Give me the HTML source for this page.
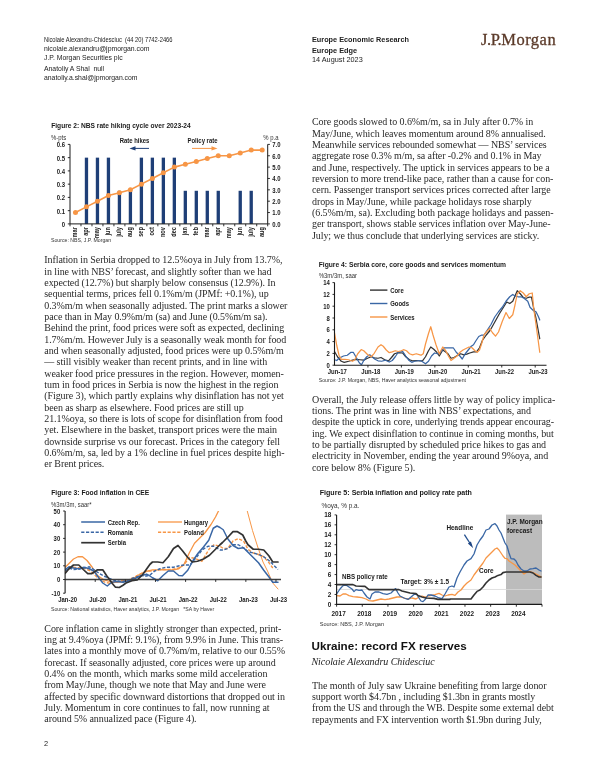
<!DOCTYPE html>
<html>
<head>
<meta charset="utf-8">
<title>Europe Edge</title>
<style>
html,body{margin:0;padding:0;background:#fff;}
body{width:600px;height:776px;position:relative;overflow:hidden;font-family:"Liberation Sans",sans-serif;color:#1a1a1a;}
.abs{position:absolute;white-space:pre;}
.body{position:absolute;font-family:"Liberation Serif",serif;font-size:10px;line-height:11.34px;white-space:pre;color:#2a2a2a;letter-spacing:-0.088px;}
.nar{position:absolute;white-space:pre;transform-origin:0 0;font-family:"Liberation Sans",sans-serif;}
.hd{position:absolute;white-space:pre;font-size:7.3px;line-height:9px;color:#222;}
svg{position:absolute;left:0;top:0;}
svg text{font-family:"Liberation Sans",sans-serif;}
</style>
</head>
<body>
<div id="page" style="position:absolute;left:0;top:0;width:600px;height:776px;filter:blur(0.55px);">

<!-- header left -->
<div class="nar" id="hl1" style="left:44px;top:34.6px;font-size:7.4px;line-height:9px;transform:scaleX(0.78);color:#222;">Nicolaie Alexandru-Chidesciuc  (44 20) 7742-2466</div>
<div class="hd" id="hl2" style="left:44px;top:44px;font-size:6.85px;">nicolaie.alexandru@jpmorgan.com</div>
<div class="hd" id="hl3" style="left:44px;top:53px;font-size:6.85px;">J.P. Morgan Securities plc</div>
<div class="hd" id="hl4" style="left:44px;top:63.6px;font-size:6.85px;">Anatoliy A Shal  null</div>
<div class="hd" id="hl5" style="left:44px;top:72.5px;font-size:6.85px;">anatoliy.a.shal@jpmorgan.com</div>

<!-- header right -->
<div class="hd" id="hr1" style="left:312px;top:34.8px;font-weight:bold;">Europe Economic Research</div>
<div class="hd" id="hr2" style="left:312px;top:45.6px;font-weight:bold;">Europe Edge</div>
<div class="hd" id="hr3" style="left:312px;top:54.6px;">14 August 2023</div>
<div class="abs" id="logo" style="left:481px;top:29px;font-family:'Liberation Serif',serif;font-size:16.5px;line-height:22px;color:#5b3a29;-webkit-text-stroke:0.3px #5b3a29;"><span style="letter-spacing:-0.45px;">J.P.</span><span style="letter-spacing:0.5px;">Morgan</span></div>

<!-- left column paragraph 1 -->
<div class="body" id="p1" style="left:44.3px;top:254.25px;">Inflation in Serbia dropped to 12.5%oya in July from 13.7%,
in line with NBS’ forecast, and slightly softer than we had
expected (12.7%) but sharply below consensus (12.9%). In
sequential terms, prices fell 0.1%m/m (JPMf: +0.1%), up
0.3%m/m when seasonally adjusted. The print marks a slower
pace than in May 0.9%m/m (sa) and June (0.5%m/m sa).
Behind the print, food prices were soft as expected, declining
1.7%m/m. However July is a seasonally weak month for food
and when seasonally adjusted, food prices were up 0.5%m/m
— still visibly weaker than recent prints, and in line with
weaker food price pressures in the region. However, momen-
tum in food prices in Serbia is now the highest in the region
(Figure 3), which partly explains why disinflation has not yet
been as sharp as elsewhere. Food prices are still up
21.1%oya, so there is lots of scope for disinflation from food
yet. Elsewhere in the basket, transport prices were the main
downside surprise vs our forecast. Prices in the category fell
0.6%m/m, sa, led by a 1% decline in fuel prices despite high-
er Brent prices.</div>

<!-- left column paragraph 2 -->
<div class="body" id="p2" style="left:44.3px;top:622.65px;">Core inflation came in slightly stronger than expected, print-
ing at 9.4%oya (JPMf: 9.1%), from 9.9% in June. This trans-
lates into a monthly move of 0.7%m/m, relative to our 0.55%
forecast. If seasonally adjusted, core prices were up around
0.4% on the month, which marks some mild acceleration
from May/June, though we note that May and June were
affected by specific downward distortions that dropped out in
July. Momentum in core continues to fall, now running at
around 5% annualized pace (Figure 4).</div>

<!-- right column paragraph 1 -->
<div class="body" id="p3" style="left:312px;top:116.25px;">Core goods slowed to 0.6%m/m, sa in July after 0.7% in
May/June, which leaves momentum around 8% annualised.
Meanwhile services rebounded somewhat — NBS’ services
aggregate rose 0.3% m/m, sa after -0.2% and 0.1% in May
and June, respectively. The uptick in services appears to be a
reversion to more trend-like pace, rather than a cause for con-
cern. Passenger transport services prices corrected after large
drops in May/June, while package holidays rose sharply
(6.5%m/m, sa). Excluding both package holidays and passen-
ger transport, shows stable services inflation over May-June-
July; we thus conclude that underlying services are sticky.</div>

<!-- right column paragraph 2 -->
<div class="body" id="p4" style="left:312px;top:393.75px;">Overall, the July release offers little by way of policy implica-
tions. The print was in line with NBS’ expectations, and
despite the uptick in core, underlying trends appear encourag-
ing. We expect disinflation to continue in coming months, but
to be partially disrupted by scheduled price hikes to gas and
electricity in November, ending the year around 9%oya, and
core below 8% (Figure 5).</div>

<!-- Ukraine section -->
<div class="abs" id="uk" style="left:311.5px;top:639px;font-size:11.65px;line-height:14px;font-weight:bold;color:#111;">Ukraine: record FX reserves</div>
<div class="abs" id="auth" style="left:311.5px;top:656.2px;font-family:'Liberation Serif',serif;font-style:italic;font-size:10px;line-height:11.34px;color:#222;letter-spacing:-0.06px;">Nicolaie Alexandru Chidesciuc</div>
<div class="body" id="p5" style="left:312px;top:679.6px;">The month of July saw Ukraine benefiting from large donor
support worth $4.7bn , including $1.3bn in grants mostly
from the US and through the WB. Despite some external debt
repayments and FX intervention worth $1.9bn during July,</div>

<!-- page number -->
<div class="abs" id="pn" style="left:44px;top:739.4px;font-size:7.4px;line-height:9px;color:#222;">2</div>

<svg width="600" height="776" viewBox="0 0 600 776">
<g id="fig2">
<text transform="translate(51.20 128.40) scale(0.84 1)" font-size="7.9" font-weight="bold" text-anchor="start" fill="#1a1a1a" >Figure 2: NBS rate hiking cycle over 2023-24</text>
<text transform="translate(51.00 139.70) scale(0.85 1)" font-size="7.0" font-weight="normal" text-anchor="start" fill="#333" >%-pts</text>
<text transform="translate(278.50 139.70) scale(0.85 1)" font-size="7.0" font-weight="normal" text-anchor="end" fill="#333" >% p.a</text>
<rect x="84.82" y="157.65" width="3.3" height="66.25" fill="#1f3f77"/>
<rect x="95.81" y="157.65" width="3.3" height="66.25" fill="#1f3f77"/>
<rect x="106.79" y="157.65" width="3.3" height="66.25" fill="#1f3f77"/>
<rect x="117.77" y="190.78" width="3.3" height="33.12" fill="#1f3f77"/>
<rect x="128.76" y="190.78" width="3.3" height="33.12" fill="#1f3f77"/>
<rect x="139.74" y="157.65" width="3.3" height="66.25" fill="#1f3f77"/>
<rect x="150.72" y="157.65" width="3.3" height="66.25" fill="#1f3f77"/>
<rect x="161.71" y="157.65" width="3.3" height="66.25" fill="#1f3f77"/>
<rect x="172.69" y="157.65" width="3.3" height="66.25" fill="#1f3f77"/>
<rect x="183.67" y="190.78" width="3.3" height="33.12" fill="#1f3f77"/>
<rect x="194.66" y="190.78" width="3.3" height="33.12" fill="#1f3f77"/>
<rect x="205.64" y="190.78" width="3.3" height="33.12" fill="#1f3f77"/>
<rect x="216.62" y="190.78" width="3.3" height="33.12" fill="#1f3f77"/>
<rect x="238.59" y="190.78" width="3.3" height="33.12" fill="#1f3f77"/>
<rect x="249.57" y="190.78" width="3.3" height="33.12" fill="#1f3f77"/>
<path d="M70.0 144.4V223.9H267.7V144.4" fill="none" stroke="#1a1a1a" stroke-width="1"/>
<path d="M67.8 223.90H70.0" stroke="#1a1a1a" stroke-width="0.9"/>
<text transform="translate(65.00 226.80) scale(0.85 1)" font-size="7.0" font-weight="bold" text-anchor="end" fill="#1a1a1a" >0</text>
<path d="M67.8 210.65H70.0" stroke="#1a1a1a" stroke-width="0.9"/>
<text transform="translate(65.00 213.55) scale(0.85 1)" font-size="7.0" font-weight="bold" text-anchor="end" fill="#1a1a1a" >0.1</text>
<path d="M67.8 197.40H70.0" stroke="#1a1a1a" stroke-width="0.9"/>
<text transform="translate(65.00 200.30) scale(0.85 1)" font-size="7.0" font-weight="bold" text-anchor="end" fill="#1a1a1a" >0.2</text>
<path d="M67.8 184.15H70.0" stroke="#1a1a1a" stroke-width="0.9"/>
<text transform="translate(65.00 187.05) scale(0.85 1)" font-size="7.0" font-weight="bold" text-anchor="end" fill="#1a1a1a" >0.3</text>
<path d="M67.8 170.90H70.0" stroke="#1a1a1a" stroke-width="0.9"/>
<text transform="translate(65.00 173.80) scale(0.85 1)" font-size="7.0" font-weight="bold" text-anchor="end" fill="#1a1a1a" >0.4</text>
<path d="M67.8 157.65H70.0" stroke="#1a1a1a" stroke-width="0.9"/>
<text transform="translate(65.00 160.55) scale(0.85 1)" font-size="7.0" font-weight="bold" text-anchor="end" fill="#1a1a1a" >0.5</text>
<path d="M67.8 144.40H70.0" stroke="#1a1a1a" stroke-width="0.9"/>
<text transform="translate(65.00 147.30) scale(0.85 1)" font-size="7.0" font-weight="bold" text-anchor="end" fill="#1a1a1a" >0.6</text>
<path d="M267.7 223.90H269.9" stroke="#1a1a1a" stroke-width="0.9"/>
<text transform="translate(272.30 226.80) scale(0.85 1)" font-size="7.0" font-weight="bold" text-anchor="start" fill="#1a1a1a" >0.0</text>
<path d="M267.7 212.54H269.9" stroke="#1a1a1a" stroke-width="0.9"/>
<text transform="translate(272.30 215.44) scale(0.85 1)" font-size="7.0" font-weight="bold" text-anchor="start" fill="#1a1a1a" >1.0</text>
<path d="M267.7 201.19H269.9" stroke="#1a1a1a" stroke-width="0.9"/>
<text transform="translate(272.30 204.09) scale(0.85 1)" font-size="7.0" font-weight="bold" text-anchor="start" fill="#1a1a1a" >2.0</text>
<path d="M267.7 189.83H269.9" stroke="#1a1a1a" stroke-width="0.9"/>
<text transform="translate(272.30 192.73) scale(0.85 1)" font-size="7.0" font-weight="bold" text-anchor="start" fill="#1a1a1a" >3.0</text>
<path d="M267.7 178.47H269.9" stroke="#1a1a1a" stroke-width="0.9"/>
<text transform="translate(272.30 181.37) scale(0.85 1)" font-size="7.0" font-weight="bold" text-anchor="start" fill="#1a1a1a" >4.0</text>
<path d="M267.7 167.11H269.9" stroke="#1a1a1a" stroke-width="0.9"/>
<text transform="translate(272.30 170.01) scale(0.85 1)" font-size="7.0" font-weight="bold" text-anchor="start" fill="#1a1a1a" >5.0</text>
<path d="M267.7 155.76H269.9" stroke="#1a1a1a" stroke-width="0.9"/>
<text transform="translate(272.30 158.66) scale(0.85 1)" font-size="7.0" font-weight="bold" text-anchor="start" fill="#1a1a1a" >6.0</text>
<path d="M267.7 144.40H269.9" stroke="#1a1a1a" stroke-width="0.9"/>
<text transform="translate(272.30 147.30) scale(0.85 1)" font-size="7.0" font-weight="bold" text-anchor="start" fill="#1a1a1a" >7.0</text>
<path d="M70.00 223.9V226.3" stroke="#1a1a1a" stroke-width="0.9"/>
<path d="M80.98 223.9V226.3" stroke="#1a1a1a" stroke-width="0.9"/>
<path d="M91.97 223.9V226.3" stroke="#1a1a1a" stroke-width="0.9"/>
<path d="M102.95 223.9V226.3" stroke="#1a1a1a" stroke-width="0.9"/>
<path d="M113.93 223.9V226.3" stroke="#1a1a1a" stroke-width="0.9"/>
<path d="M124.92 223.9V226.3" stroke="#1a1a1a" stroke-width="0.9"/>
<path d="M135.90 223.9V226.3" stroke="#1a1a1a" stroke-width="0.9"/>
<path d="M146.88 223.9V226.3" stroke="#1a1a1a" stroke-width="0.9"/>
<path d="M157.87 223.9V226.3" stroke="#1a1a1a" stroke-width="0.9"/>
<path d="M168.85 223.9V226.3" stroke="#1a1a1a" stroke-width="0.9"/>
<path d="M179.83 223.9V226.3" stroke="#1a1a1a" stroke-width="0.9"/>
<path d="M190.82 223.9V226.3" stroke="#1a1a1a" stroke-width="0.9"/>
<path d="M201.80 223.9V226.3" stroke="#1a1a1a" stroke-width="0.9"/>
<path d="M212.78 223.9V226.3" stroke="#1a1a1a" stroke-width="0.9"/>
<path d="M223.77 223.9V226.3" stroke="#1a1a1a" stroke-width="0.9"/>
<path d="M234.75 223.9V226.3" stroke="#1a1a1a" stroke-width="0.9"/>
<path d="M245.73 223.9V226.3" stroke="#1a1a1a" stroke-width="0.9"/>
<path d="M256.72 223.9V226.3" stroke="#1a1a1a" stroke-width="0.9"/>
<path d="M267.70 223.9V226.3" stroke="#1a1a1a" stroke-width="0.9"/>
<text transform="translate(77.49 227.1) rotate(-90) scale(0.85 1)" font-size="6.6" font-weight="bold" text-anchor="end" fill="#1a1a1a">mar</text>
<text transform="translate(88.47 227.1) rotate(-90) scale(0.85 1)" font-size="6.6" font-weight="bold" text-anchor="end" fill="#1a1a1a">apr</text>
<text transform="translate(99.46 227.1) rotate(-90) scale(0.85 1)" font-size="6.6" font-weight="bold" text-anchor="end" fill="#1a1a1a">may</text>
<text transform="translate(110.44 227.1) rotate(-90) scale(0.85 1)" font-size="6.6" font-weight="bold" text-anchor="end" fill="#1a1a1a">jun</text>
<text transform="translate(121.42 227.1) rotate(-90) scale(0.85 1)" font-size="6.6" font-weight="bold" text-anchor="end" fill="#1a1a1a">july</text>
<text transform="translate(132.41 227.1) rotate(-90) scale(0.85 1)" font-size="6.6" font-weight="bold" text-anchor="end" fill="#1a1a1a">aug</text>
<text transform="translate(143.39 227.1) rotate(-90) scale(0.85 1)" font-size="6.6" font-weight="bold" text-anchor="end" fill="#1a1a1a">sep</text>
<text transform="translate(154.38 227.1) rotate(-90) scale(0.85 1)" font-size="6.6" font-weight="bold" text-anchor="end" fill="#1a1a1a">oct</text>
<text transform="translate(165.36 227.1) rotate(-90) scale(0.85 1)" font-size="6.6" font-weight="bold" text-anchor="end" fill="#1a1a1a">nov</text>
<text transform="translate(176.34 227.1) rotate(-90) scale(0.85 1)" font-size="6.6" font-weight="bold" text-anchor="end" fill="#1a1a1a">dec</text>
<text transform="translate(187.32 227.1) rotate(-90) scale(0.85 1)" font-size="6.6" font-weight="bold" text-anchor="end" fill="#1a1a1a">jan</text>
<text transform="translate(198.31 227.1) rotate(-90) scale(0.85 1)" font-size="6.6" font-weight="bold" text-anchor="end" fill="#1a1a1a">feb</text>
<text transform="translate(209.29 227.1) rotate(-90) scale(0.85 1)" font-size="6.6" font-weight="bold" text-anchor="end" fill="#1a1a1a">mar</text>
<text transform="translate(220.27 227.1) rotate(-90) scale(0.85 1)" font-size="6.6" font-weight="bold" text-anchor="end" fill="#1a1a1a">apr</text>
<text transform="translate(231.26 227.1) rotate(-90) scale(0.85 1)" font-size="6.6" font-weight="bold" text-anchor="end" fill="#1a1a1a">may</text>
<text transform="translate(242.24 227.1) rotate(-90) scale(0.85 1)" font-size="6.6" font-weight="bold" text-anchor="end" fill="#1a1a1a">jun</text>
<text transform="translate(253.22 227.1) rotate(-90) scale(0.85 1)" font-size="6.6" font-weight="bold" text-anchor="end" fill="#1a1a1a">july</text>
<text transform="translate(264.21 227.1) rotate(-90) scale(0.85 1)" font-size="6.6" font-weight="bold" text-anchor="end" fill="#1a1a1a">aug</text>
<polyline points="75.49,212.54 86.47,206.86 97.46,201.19 108.44,195.51 119.42,192.67 130.41,189.83 141.39,184.15 152.38,178.47 163.36,172.79 174.34,167.11 185.32,164.28 196.31,161.44 207.29,158.60 218.27,155.76 229.26,155.76 240.24,152.92 251.22,150.08 262.21,150.08" fill="none" stroke="#f79646" stroke-width="1.6" stroke-linejoin="round" stroke-linecap="round" />
<circle cx="75.49" cy="212.54" r="2.5" fill="#f79646"/>
<circle cx="86.47" cy="206.86" r="2.5" fill="#f79646"/>
<circle cx="97.46" cy="201.19" r="2.5" fill="#f79646"/>
<circle cx="108.44" cy="195.51" r="2.5" fill="#f79646"/>
<circle cx="119.42" cy="192.67" r="2.5" fill="#f79646"/>
<circle cx="130.41" cy="189.83" r="2.5" fill="#f79646"/>
<circle cx="141.39" cy="184.15" r="2.5" fill="#f79646"/>
<circle cx="152.38" cy="178.47" r="2.5" fill="#f79646"/>
<circle cx="163.36" cy="172.79" r="2.5" fill="#f79646"/>
<circle cx="174.34" cy="167.11" r="2.5" fill="#f79646"/>
<circle cx="185.32" cy="164.28" r="2.5" fill="#f79646"/>
<circle cx="196.31" cy="161.44" r="2.5" fill="#f79646"/>
<circle cx="207.29" cy="158.60" r="2.5" fill="#f79646"/>
<circle cx="218.27" cy="155.76" r="2.5" fill="#f79646"/>
<circle cx="229.26" cy="155.76" r="2.5" fill="#f79646"/>
<circle cx="240.24" cy="152.92" r="2.5" fill="#f79646"/>
<circle cx="251.22" cy="150.08" r="2.5" fill="#f79646"/>
<circle cx="262.21" cy="150.08" r="2.5" fill="#f79646"/>
<text transform="translate(134.50 143.20) scale(0.85 1)" font-size="7.0" font-weight="bold" text-anchor="middle" fill="#1a1a1a" >Rate hikes</text>
<text transform="translate(202.50 143.20) scale(0.85 1)" font-size="7.0" font-weight="bold" text-anchor="middle" fill="#1a1a1a" >Policy rate</text>
<path d="M149 148.4H133" stroke="#1f3f77" stroke-width="1"/><path d="M129.5 148.4L135.5 146.2V150.6Z" fill="#1f3f77"/>
<path d="M192 148.4H212" stroke="#f79646" stroke-width="1"/><path d="M217.5 148.4L211.5 146.2V150.6Z" fill="#f79646"/>
<text transform="translate(51.00 242.20) scale(0.85 1)" font-size="6.1" font-weight="normal" text-anchor="start" fill="#333" >Source: NBS, J.P. Morgan</text>
</g>
<g id="fig3">
<text transform="translate(51.20 495.00) scale(0.85 1)" font-size="7.9" font-weight="bold" text-anchor="start" fill="#1a1a1a" >Figure 3: Food inflation in CEE</text>
<text transform="translate(51.00 506.60) scale(0.85 1)" font-size="7.0" font-weight="normal" text-anchor="start" fill="#333" >%3m/3m, saar*</text>
<clipPath id="c3"><rect x="65.1" y="511.0" width="217.9" height="84.20000000000005"/></clipPath>
<g clip-path="url(#c3)">
<polyline points="65.25,567.25 69.00,563.50 73.50,559.00 78.00,556.75 82.50,556.75 87.00,560.50 92.25,567.25 97.50,575.50 103.50,579.55 109.50,581.50 115.50,582.25 121.50,581.80 127.50,580.75 132.00,579.70 137.50,575.50 145.00,571.75 152.50,569.80 157.75,569.80 163.00,569.50 168.25,569.80 173.50,569.80 178.75,568.75 184.00,564.25 189.25,553.00 194.50,543.25 199.00,538.75 205.00,532.75 211.00,524.50 215.50,517.00 218.50,511.00 221.50,502.00" fill="none" stroke="#f79646" stroke-width="1.3" stroke-linejoin="round" stroke-linecap="round" />
<polyline points="245.00,502.00 247.25,511.00 252.50,530.50 257.75,547.00 263.00,562.00 267.50,571.00 272.75,583.00 278.00,589.00" fill="none" stroke="#f79646" stroke-width="1.0" stroke-linejoin="round" stroke-linecap="round" />
<polyline points="65.25,572.50 69.00,568.75 73.50,567.25 79.50,568.00 85.50,568.75 90.75,571.00 95.25,575.50 99.75,579.25 105.00,582.25 109.50,583.30 115.50,582.25 121.50,580.75 127.50,580.00 132.00,579.25 130.00,579.25 139.00,574.75 146.50,571.00 152.50,571.00 157.75,569.80 163.00,569.50 168.25,569.50 173.50,569.20 178.75,568.00 184.00,565.00 189.25,557.50 194.50,558.25 202.00,561.25 205.00,556.00 209.50,548.50 214.00,544.75 220.00,546.25 223.25,548.50 227.75,548.50 233.00,541.00 238.25,538.75 243.50,541.00 248.00,549.25 253.25,553.00 258.50,554.50 263.75,556.75 269.00,562.75 272.75,568.00" fill="none" stroke="#f79646" stroke-width="1.4" stroke-linejoin="round"  stroke-dasharray="3.2 1.6" stroke-linecap="butt"/>
<polyline points="65.25,569.50 69.00,566.80 73.50,568.00 78.75,568.75 84.00,567.25 89.25,568.75 93.75,571.00 98.25,577.00 102.75,583.00 107.25,586.00 111.75,582.25 117.00,581.50 123.00,582.25 129.00,580.75 135.00,578.50 141.00,575.50 147.00,574.30 145.00,574.75 148.00,574.75 152.50,577.75 157.75,580.75 163.00,575.50 168.25,571.00 173.50,571.00 178.75,575.50 182.50,575.80 187.75,570.25 193.00,560.50 198.25,553.00 203.50,547.00 208.75,540.25 213.25,528.25 217.00,526.00 220.00,527.50 223.25,529.75 227.75,538.75 233.00,545.50 238.25,548.50 243.50,547.75 248.00,552.25 253.25,557.50 258.50,562.75 263.75,570.25 269.00,577.00 272.75,582.25 278.00,582.25" fill="none" stroke="#3a67a5" stroke-width="1.5" stroke-linejoin="round" stroke-linecap="round" />
<polyline points="65.25,571.00 69.00,568.00 73.50,569.50 78.75,569.20 84.00,568.00 89.25,566.80 93.75,569.50 99.00,573.25 104.25,576.25 109.50,578.50 115.50,580.75 121.50,581.50 127.50,580.75 132.00,578.50 136.50,577.00 142.50,575.50 145.00,576.25 149.50,575.50 154.75,571.00 160.00,568.75 166.00,567.25 173.50,567.25 179.50,565.75 184.00,565.00 190.00,565.00 193.00,561.25 197.50,556.00 202.00,550.00 208.00,546.25 214.00,546.25 220.00,550.00 223.25,550.00 227.75,548.50 233.00,544.75 238.25,544.75 243.50,547.75 248.00,551.50 253.25,553.00 258.50,554.50 263.75,556.75 269.00,560.50 273.50,565.00 278.00,569.50" fill="none" stroke="#3a67a5" stroke-width="1.4" stroke-linejoin="round" stroke-linecap="butt" stroke-dasharray="3.2 1.6" />
</g>
<path d="M65.1 579.6H281.0" stroke="#404040" stroke-width="1.5"/>
<g clip-path="url(#c3)">
<polyline points="65.25,573.25 69.00,568.75 73.50,565.00 78.75,565.00 83.25,569.50 87.75,573.70 91.50,573.70 97.50,569.80 102.75,569.80 106.50,575.50 109.50,579.55 112.50,583.75 115.50,587.20 119.25,587.50 123.00,585.25 126.00,583.00 132.00,580.75 137.25,580.00 142.50,574.75 150.00,564.25 152.50,562.00 157.75,562.00 163.00,562.75 168.25,556.75 173.50,548.50 178.00,545.50 182.50,550.75 187.75,557.50 192.25,562.00 197.50,561.25 203.50,559.00 209.50,555.25 215.50,549.25 220.00,544.75 222.50,542.50 228.50,536.50 233.00,531.70 237.50,531.70 242.75,535.00 245.75,541.00 248.00,544.75 253.25,549.25 258.50,549.25 263.75,550.00 269.00,556.00 272.75,562.00 278.00,562.00" fill="none" stroke="#333333" stroke-width="1.7" stroke-linejoin="round" stroke-linecap="round" />
</g>
<path d="M65.1 511.0V593.2" stroke="#1a1a1a" stroke-width="1.1"/>
<path d="M63.099999999999994 593.20H65.1" stroke="#1a1a1a" stroke-width="0.9"/>
<text transform="translate(60.20 595.70) scale(0.85 1)" font-size="7.0" font-weight="bold" text-anchor="end" fill="#1a1a1a" >-10</text>
<path d="M63.099999999999994 579.50H65.1" stroke="#1a1a1a" stroke-width="0.9"/>
<text transform="translate(60.20 582.00) scale(0.85 1)" font-size="7.0" font-weight="bold" text-anchor="end" fill="#1a1a1a" >0</text>
<path d="M63.099999999999994 565.80H65.1" stroke="#1a1a1a" stroke-width="0.9"/>
<text transform="translate(60.20 568.30) scale(0.85 1)" font-size="7.0" font-weight="bold" text-anchor="end" fill="#1a1a1a" >10</text>
<path d="M63.099999999999994 552.10H65.1" stroke="#1a1a1a" stroke-width="0.9"/>
<text transform="translate(60.20 554.60) scale(0.85 1)" font-size="7.0" font-weight="bold" text-anchor="end" fill="#1a1a1a" >20</text>
<path d="M63.099999999999994 538.40H65.1" stroke="#1a1a1a" stroke-width="0.9"/>
<text transform="translate(60.20 540.90) scale(0.85 1)" font-size="7.0" font-weight="bold" text-anchor="end" fill="#1a1a1a" >30</text>
<path d="M63.099999999999994 524.70H65.1" stroke="#1a1a1a" stroke-width="0.9"/>
<text transform="translate(60.20 527.20) scale(0.85 1)" font-size="7.0" font-weight="bold" text-anchor="end" fill="#1a1a1a" >40</text>
<path d="M63.099999999999994 511.00H65.1" stroke="#1a1a1a" stroke-width="0.9"/>
<text transform="translate(60.20 513.50) scale(0.85 1)" font-size="7.0" font-weight="bold" text-anchor="end" fill="#1a1a1a" >50</text>
<text transform="translate(67.61 602.30) scale(0.85 1)" font-size="7.0" font-weight="bold" text-anchor="middle" fill="#1a1a1a" >Jan-20</text>
<path d="M95.23 579.6V581.9" stroke="#1a1a1a" stroke-width="0.9"/>
<text transform="translate(97.74 602.30) scale(0.85 1)" font-size="7.0" font-weight="bold" text-anchor="middle" fill="#1a1a1a" >Jul-20</text>
<path d="M125.35 579.6V581.9" stroke="#1a1a1a" stroke-width="0.9"/>
<text transform="translate(127.86 602.30) scale(0.85 1)" font-size="7.0" font-weight="bold" text-anchor="middle" fill="#1a1a1a" >Jan-21</text>
<path d="M155.48 579.6V581.9" stroke="#1a1a1a" stroke-width="0.9"/>
<text transform="translate(157.99 602.30) scale(0.85 1)" font-size="7.0" font-weight="bold" text-anchor="middle" fill="#1a1a1a" >Jul-21</text>
<path d="M185.60 579.6V581.9" stroke="#1a1a1a" stroke-width="0.9"/>
<text transform="translate(188.11 602.30) scale(0.85 1)" font-size="7.0" font-weight="bold" text-anchor="middle" fill="#1a1a1a" >Jan-22</text>
<path d="M215.73 579.6V581.9" stroke="#1a1a1a" stroke-width="0.9"/>
<text transform="translate(218.24 602.30) scale(0.85 1)" font-size="7.0" font-weight="bold" text-anchor="middle" fill="#1a1a1a" >Jul-22</text>
<path d="M245.85 579.6V581.9" stroke="#1a1a1a" stroke-width="0.9"/>
<text transform="translate(248.36 602.30) scale(0.85 1)" font-size="7.0" font-weight="bold" text-anchor="middle" fill="#1a1a1a" >Jan-23</text>
<path d="M275.98 579.6V581.9" stroke="#1a1a1a" stroke-width="0.9"/>
<text transform="translate(278.49 602.30) scale(0.85 1)" font-size="7.0" font-weight="bold" text-anchor="middle" fill="#1a1a1a" >Jul-23</text>
<path d="M81.2 522H105" stroke="#3a67a5" stroke-width="1.5"/>
<path d="M81.2 532.3H105" stroke="#3a67a5" stroke-width="1.4" stroke-dasharray="3.2 1.6"/>
<path d="M81.2 542.7H105" stroke="#333333" stroke-width="1.7"/>
<text transform="translate(107.80 524.50) scale(0.85 1)" font-size="7.0" font-weight="bold" text-anchor="start" fill="#1a1a1a" >Czech Rep.</text>
<text transform="translate(107.80 534.80) scale(0.85 1)" font-size="7.0" font-weight="bold" text-anchor="start" fill="#1a1a1a" >Romania</text>
<text transform="translate(107.80 545.20) scale(0.85 1)" font-size="7.0" font-weight="bold" text-anchor="start" fill="#1a1a1a" >Serbia</text>
<path d="M158 522H182" stroke="#f79646" stroke-width="1.3"/>
<path d="M158 532.3H182" stroke="#f79646" stroke-width="1.4" stroke-dasharray="3.2 1.6"/>
<text transform="translate(184.00 524.50) scale(0.85 1)" font-size="7.0" font-weight="bold" text-anchor="start" fill="#1a1a1a" >Hungary</text>
<text transform="translate(184.00 534.80) scale(0.85 1)" font-size="7.0" font-weight="bold" text-anchor="start" fill="#1a1a1a" >Poland</text>
<text transform="translate(51.00 611.00) scale(0.85 1)" font-size="6.1" font-weight="normal" text-anchor="start" fill="#333" >Source: National statistics, Haver analytics, J.P. Morgan&#160;&#160;&#160;*SA by Haver</text>
</g>
<g id="fig4">
<text transform="translate(318.70 266.70) scale(0.85 1)" font-size="7.9" font-weight="bold" text-anchor="start" fill="#1a1a1a" >Figure 4: Serbia core, core goods and services momentum</text>
<text transform="translate(318.70 277.70) scale(0.85 1)" font-size="7.0" font-weight="normal" text-anchor="start" fill="#333" >%3m/3m, saar</text>
<polyline points="334.50,351.50 337.50,356.75 341.25,361.25 344.25,362.30 348.75,361.25 352.50,360.20 356.25,359.30 360.00,359.75 363.75,360.20 367.50,358.25 371.25,356.75 374.25,357.80 378.00,358.25 381.00,357.50 384.75,359.75 388.50,360.80 391.50,357.50 394.50,353.75 398.25,352.70 402.75,353.00 405.75,356.75 409.50,359.75 412.50,360.80 416.25,360.50 420.00,360.80 422.50,360.80 425.50,356.75 428.50,350.75 430.75,347.00 433.75,349.25 436.75,352.25 439.30,356.00 442.75,350.00 445.00,351.50 448.00,353.75 451.00,358.25 454.00,357.50 457.75,355.25 460.75,353.75 463.75,354.80 466.75,354.20 469.75,353.00 473.50,351.80 476.50,351.80 479.50,347.75 482.50,340.25 486.25,335.00 490.00,330.50 491.75,327.50 495.50,320.75 499.25,314.00 503.00,308.00 506.75,302.00 509.75,303.50 512.75,301.25 515.00,296.00 517.25,290.75 520.25,293.75 523.25,297.50 526.25,298.25 529.25,297.20 531.50,297.20 533.75,308.75 536.00,318.50 538.25,330.50 539.75,338.75" fill="none" stroke="#333333" stroke-width="1.25" stroke-linejoin="round" stroke-linecap="round" />
<polyline points="334.50,359.75 336.75,360.50 339.00,358.25 343.50,356.00 347.25,355.25 351.00,352.25 353.25,352.25 356.25,357.50 359.25,362.75 361.50,364.70 363.75,360.50 366.75,356.75 369.75,354.80 372.00,356.75 375.00,359.30 378.00,360.80 381.75,361.25 385.50,360.20 389.25,362.00 392.25,360.50 395.25,356.75 398.25,352.25 402.75,351.50 405.75,356.00 408.75,360.20 411.75,362.30 414.75,361.25 420.00,360.50 421.75,361.25 425.50,363.80 428.50,361.25 431.50,356.00 434.50,353.00 437.50,353.75 440.50,352.25 444.25,347.75 448.00,347.75 453.25,347.75 456.25,352.25 459.25,355.25 462.25,359.00 465.25,353.75 468.25,350.00 471.25,346.25 473.50,344.75 475.75,341.00 478.75,336.50 481.75,335.00 484.00,335.00 487.00,330.50 490.00,326.00 491.00,324.50 494.75,317.00 498.50,311.75 502.25,307.25 506.00,301.25 509.75,296.75 512.75,294.50 515.00,296.00 518.00,296.75 521.00,296.75 524.00,298.25 527.75,301.25 530.00,307.25 533.00,310.25 536.00,311.75 538.25,316.25 539.75,320.00" fill="none" stroke="#3a67a5" stroke-width="1.25" stroke-linejoin="round" stroke-linecap="round" />
<polyline points="334.50,332.75 336.75,345.50 339.00,355.25 341.25,359.30 345.00,359.30 348.75,359.75 352.50,361.25 354.75,359.75 357.75,353.75 361.20,349.55 363.75,350.75 367.50,354.50 371.25,356.75 374.25,353.30 378.00,347.00 381.00,344.75 383.25,346.25 386.25,350.00 389.25,352.70 392.25,351.80 395.25,350.75 398.25,351.50 401.25,350.75 403.50,349.70 406.50,350.75 409.50,353.75 412.50,354.80 416.25,353.75 420.00,354.80 421.00,355.25 423.25,353.75 425.50,344.00 428.50,333.50 430.75,326.75 433.00,335.00 436.00,344.75 439.30,353.75 442.75,347.00 445.75,350.75 448.00,355.25 451.00,360.50 454.00,358.25 457.00,356.00 460.00,352.25 463.00,350.00 466.00,348.50 469.00,347.00 472.00,347.75 475.00,350.75 477.25,352.25 479.50,350.00 481.75,343.25 484.00,335.00 487.00,331.25 490.00,328.25 489.50,328.25 492.50,332.75 495.50,336.20 498.50,332.00 502.25,321.50 506.00,312.50 509.30,318.50 512.75,314.75 515.00,305.00 517.25,293.75 520.25,290.75 523.25,293.00 526.25,296.75 529.25,293.75 532.25,293.00 533.75,308.75 536.00,324.50 538.25,341.00 539.75,352.25" fill="none" stroke="#f79646" stroke-width="1.25" stroke-linejoin="round" stroke-linecap="round" />
<path d="M334.5 282.6V365.2H546.5" fill="none" stroke="#1a1a1a" stroke-width="1.1"/>
<path d="M332.5 365.20H334.5" stroke="#1a1a1a" stroke-width="0.9"/>
<text transform="translate(329.90 367.70) scale(0.85 1)" font-size="7.0" font-weight="bold" text-anchor="end" fill="#1a1a1a" >0</text>
<path d="M332.5 353.40H334.5" stroke="#1a1a1a" stroke-width="0.9"/>
<text transform="translate(329.90 355.90) scale(0.85 1)" font-size="7.0" font-weight="bold" text-anchor="end" fill="#1a1a1a" >2</text>
<path d="M332.5 341.60H334.5" stroke="#1a1a1a" stroke-width="0.9"/>
<text transform="translate(329.90 344.10) scale(0.85 1)" font-size="7.0" font-weight="bold" text-anchor="end" fill="#1a1a1a" >4</text>
<path d="M332.5 329.80H334.5" stroke="#1a1a1a" stroke-width="0.9"/>
<text transform="translate(329.90 332.30) scale(0.85 1)" font-size="7.0" font-weight="bold" text-anchor="end" fill="#1a1a1a" >6</text>
<path d="M332.5 318.00H334.5" stroke="#1a1a1a" stroke-width="0.9"/>
<text transform="translate(329.90 320.50) scale(0.85 1)" font-size="7.0" font-weight="bold" text-anchor="end" fill="#1a1a1a" >8</text>
<path d="M332.5 306.20H334.5" stroke="#1a1a1a" stroke-width="0.9"/>
<text transform="translate(329.90 308.70) scale(0.85 1)" font-size="7.0" font-weight="bold" text-anchor="end" fill="#1a1a1a" >10</text>
<path d="M332.5 294.40H334.5" stroke="#1a1a1a" stroke-width="0.9"/>
<text transform="translate(329.90 296.90) scale(0.85 1)" font-size="7.0" font-weight="bold" text-anchor="end" fill="#1a1a1a" >12</text>
<path d="M332.5 282.60H334.5" stroke="#1a1a1a" stroke-width="0.9"/>
<text transform="translate(329.90 285.10) scale(0.85 1)" font-size="7.0" font-weight="bold" text-anchor="end" fill="#1a1a1a" >14</text>
<text transform="translate(337.30 374.20) scale(0.85 1)" font-size="7.0" font-weight="bold" text-anchor="middle" fill="#1a1a1a" >Jun-17</text>
<path d="M367.95 365.2V367.5" stroke="#1a1a1a" stroke-width="0.9"/>
<text transform="translate(370.75 374.20) scale(0.85 1)" font-size="7.0" font-weight="bold" text-anchor="middle" fill="#1a1a1a" >Jun-18</text>
<path d="M401.40 365.2V367.5" stroke="#1a1a1a" stroke-width="0.9"/>
<text transform="translate(404.20 374.20) scale(0.85 1)" font-size="7.0" font-weight="bold" text-anchor="middle" fill="#1a1a1a" >Jun-19</text>
<path d="M434.85 365.2V367.5" stroke="#1a1a1a" stroke-width="0.9"/>
<text transform="translate(437.65 374.20) scale(0.85 1)" font-size="7.0" font-weight="bold" text-anchor="middle" fill="#1a1a1a" >Jun-20</text>
<path d="M468.30 365.2V367.5" stroke="#1a1a1a" stroke-width="0.9"/>
<text transform="translate(471.10 374.20) scale(0.85 1)" font-size="7.0" font-weight="bold" text-anchor="middle" fill="#1a1a1a" >Jun-21</text>
<path d="M501.75 365.2V367.5" stroke="#1a1a1a" stroke-width="0.9"/>
<text transform="translate(504.55 374.20) scale(0.85 1)" font-size="7.0" font-weight="bold" text-anchor="middle" fill="#1a1a1a" >Jun-22</text>
<path d="M535.20 365.2V367.5" stroke="#1a1a1a" stroke-width="0.9"/>
<text transform="translate(538.00 374.20) scale(0.85 1)" font-size="7.0" font-weight="bold" text-anchor="middle" fill="#1a1a1a" >Jun-23</text>
<path d="M370 290.1H387.4" stroke="#333333" stroke-width="1.4"/>
<path d="M370 303.5H387.4" stroke="#3a67a5" stroke-width="1.4"/>
<path d="M370 317H387.4" stroke="#f79646" stroke-width="1.4"/>
<text transform="translate(390.20 292.60) scale(0.85 1)" font-size="7.0" font-weight="bold" text-anchor="start" fill="#1a1a1a" >Core</text>
<text transform="translate(390.20 306.00) scale(0.85 1)" font-size="7.0" font-weight="bold" text-anchor="start" fill="#1a1a1a" >Goods</text>
<text transform="translate(390.20 319.50) scale(0.85 1)" font-size="7.0" font-weight="bold" text-anchor="start" fill="#1a1a1a" >Services</text>
<text transform="translate(318.70 382.40) scale(0.85 1)" font-size="6.1" font-weight="normal" text-anchor="start" fill="#333" >Source: J.P. Morgan, NBS, Haver analytics seasonal adjustment</text>
</g>
<g id="fig5">
<text transform="translate(319.70 495.40) scale(0.9 1)" font-size="7.9" font-weight="bold" text-anchor="start" fill="#1a1a1a" >Figure 5: Serbia inflation and policy rate path</text>
<text transform="translate(321.50 508.00) scale(0.92 1)" font-size="7.0" font-weight="normal" text-anchor="start" fill="#333" >%oya, % p.a.</text>
<rect x="506" y="514.6" width="36" height="89.80" fill="#bcbcbc"/>
<path d="M336.6 589.48H542.0" stroke="#d8d8d8" stroke-width="0.8"/>
<polyline points="336.60,595.60 340.00,596.00 343.00,594.00 346.00,594.00 349.00,595.60 353.00,596.60 357.00,597.00 362.00,597.60 366.00,599.00 369.00,600.60 373.00,601.00 377.00,600.00 381.00,599.00 385.00,599.60 389.00,599.00 393.00,598.00 397.00,597.00 401.00,597.00 405.00,598.40 409.00,599.00 412.00,598.00 416.00,599.00 419.00,597.00 422.00,596.00 425.00,597.00 428.00,596.00 431.00,595.40 435.00,594.60 439.00,593.40 442.00,595.00 445.00,596.00 448.00,595.00 452.00,594.40 455.00,595.40 458.00,592.00 461.00,590.00 464.00,586.00 467.00,583.00 471.00,580.00 474.00,575.00 477.00,571.00 480.00,567.00 483.00,563.00 486.00,558.00 489.00,555.00 492.00,552.00 495.00,549.00 497.00,548.00 499.00,550.00 501.00,553.00 503.00,556.00 505.00,558.40 507.00,558.60 509.00,561.00 512.00,563.00 515.00,565.00 518.00,568.00 521.00,571.00 524.00,574.00 527.00,572.00 530.00,571.60 533.00,572.60 536.00,574.00 539.00,575.60 541.00,577.00" fill="none" stroke="#f79646" stroke-width="1.3" stroke-linejoin="round" stroke-linecap="round" />
<polyline points="336.60,594.00 340.00,589.00 343.00,585.60 346.00,585.00 349.00,587.00 352.00,589.00 354.00,591.60 356.00,589.60 359.00,590.40 362.00,590.00 364.00,593.00 367.00,597.00 370.00,599.00 372.00,594.00 375.00,592.00 379.00,592.00 383.00,593.60 387.00,594.40 391.00,593.00 394.00,590.00 395.60,588.60 398.00,593.00 400.00,596.00 404.00,598.00 408.00,599.40 411.00,597.00 414.00,594.40 417.00,594.40 419.00,598.00 421.00,601.00 423.00,601.60 425.60,599.00 428.00,595.00 431.00,595.00 435.00,596.00 439.00,598.00 442.00,598.60 445.00,594.00 449.00,587.00 452.00,586.00 454.00,587.00 457.00,578.00 460.00,572.00 464.00,565.00 467.00,561.00 471.00,558.60 474.00,554.00 477.00,545.00 480.00,540.00 483.00,536.00 486.00,530.00 489.00,529.00 492.00,525.00 495.00,523.60 497.00,526.00 499.00,530.00 501.00,533.00 503.00,538.00 505.00,543.00 507.00,546.00 509.00,553.00 511.00,558.60 514.00,559.00 516.00,561.00 518.00,565.00 521.00,569.00 524.00,571.00 527.00,571.00 530.00,569.00 533.00,568.60 536.00,568.00 539.00,570.00 541.00,571.00" fill="none" stroke="#3a67a5" stroke-width="1.3" stroke-linejoin="round" stroke-linecap="round" />
<polyline points="336.60,584.60 353.00,584.60 356.00,586.00 365.00,586.40 369.00,589.60 399.00,589.60 402.00,591.00 406.00,592.00 410.00,593.00 416.00,593.60 418.00,595.60 422.00,597.00 426.00,598.00 434.00,598.40 438.00,599.40 450.00,599.40 450.00,599.00 471.00,599.00 474.00,595.00 477.00,591.40 480.00,590.00 483.00,587.00 486.00,583.00 489.00,580.00 492.00,578.00 495.00,577.00 498.00,575.40 501.00,574.60 503.00,572.60 506.00,572.00 530.00,572.00 533.00,573.00 536.00,575.40 539.00,577.00 541.00,577.00" fill="none" stroke="#333333" stroke-width="1.6" stroke-linejoin="round" stroke-linecap="round" />
<path d="M336.6 514.9V604.4H542.0" fill="none" stroke="#1a1a1a" stroke-width="1.1"/>
<path d="M334.6 604.40H336.6" stroke="#1a1a1a" stroke-width="0.9"/>
<text transform="translate(331.40 606.90) scale(0.92 1)" font-size="7.0" font-weight="bold" text-anchor="end" fill="#1a1a1a" >0</text>
<path d="M334.6 594.46H336.6" stroke="#1a1a1a" stroke-width="0.9"/>
<text transform="translate(331.40 596.96) scale(0.92 1)" font-size="7.0" font-weight="bold" text-anchor="end" fill="#1a1a1a" >2</text>
<path d="M334.6 584.51H336.6" stroke="#1a1a1a" stroke-width="0.9"/>
<text transform="translate(331.40 587.01) scale(0.92 1)" font-size="7.0" font-weight="bold" text-anchor="end" fill="#1a1a1a" >4</text>
<path d="M334.6 574.57H336.6" stroke="#1a1a1a" stroke-width="0.9"/>
<text transform="translate(331.40 577.07) scale(0.92 1)" font-size="7.0" font-weight="bold" text-anchor="end" fill="#1a1a1a" >6</text>
<path d="M334.6 564.62H336.6" stroke="#1a1a1a" stroke-width="0.9"/>
<text transform="translate(331.40 567.12) scale(0.92 1)" font-size="7.0" font-weight="bold" text-anchor="end" fill="#1a1a1a" >8</text>
<path d="M334.6 554.68H336.6" stroke="#1a1a1a" stroke-width="0.9"/>
<text transform="translate(331.40 557.18) scale(0.92 1)" font-size="7.0" font-weight="bold" text-anchor="end" fill="#1a1a1a" >10</text>
<path d="M334.6 544.73H336.6" stroke="#1a1a1a" stroke-width="0.9"/>
<text transform="translate(331.40 547.23) scale(0.92 1)" font-size="7.0" font-weight="bold" text-anchor="end" fill="#1a1a1a" >12</text>
<path d="M334.6 534.79H336.6" stroke="#1a1a1a" stroke-width="0.9"/>
<text transform="translate(331.40 537.29) scale(0.92 1)" font-size="7.0" font-weight="bold" text-anchor="end" fill="#1a1a1a" >14</text>
<path d="M334.6 524.84H336.6" stroke="#1a1a1a" stroke-width="0.9"/>
<text transform="translate(331.40 527.34) scale(0.92 1)" font-size="7.0" font-weight="bold" text-anchor="end" fill="#1a1a1a" >16</text>
<path d="M334.6 514.90H336.6" stroke="#1a1a1a" stroke-width="0.9"/>
<text transform="translate(331.40 517.40) scale(0.92 1)" font-size="7.0" font-weight="bold" text-anchor="end" fill="#1a1a1a" >18</text>
<path d="M336.60 604.4V606.6999999999999" stroke="#1a1a1a" stroke-width="0.9"/>
<text transform="translate(338.60 616.30) scale(0.92 1)" font-size="7.0" font-weight="bold" text-anchor="middle" fill="#1a1a1a" >2017</text>
<path d="M362.28 604.4V606.6999999999999" stroke="#1a1a1a" stroke-width="0.9"/>
<text transform="translate(364.28 616.30) scale(0.92 1)" font-size="7.0" font-weight="bold" text-anchor="middle" fill="#1a1a1a" >2018</text>
<path d="M387.95 604.4V606.6999999999999" stroke="#1a1a1a" stroke-width="0.9"/>
<text transform="translate(389.95 616.30) scale(0.92 1)" font-size="7.0" font-weight="bold" text-anchor="middle" fill="#1a1a1a" >2019</text>
<path d="M413.62 604.4V606.6999999999999" stroke="#1a1a1a" stroke-width="0.9"/>
<text transform="translate(415.62 616.30) scale(0.92 1)" font-size="7.0" font-weight="bold" text-anchor="middle" fill="#1a1a1a" >2020</text>
<path d="M439.30 604.4V606.6999999999999" stroke="#1a1a1a" stroke-width="0.9"/>
<text transform="translate(441.30 616.30) scale(0.92 1)" font-size="7.0" font-weight="bold" text-anchor="middle" fill="#1a1a1a" >2021</text>
<path d="M464.98 604.4V606.6999999999999" stroke="#1a1a1a" stroke-width="0.9"/>
<text transform="translate(466.98 616.30) scale(0.92 1)" font-size="7.0" font-weight="bold" text-anchor="middle" fill="#1a1a1a" >2022</text>
<path d="M490.65 604.4V606.6999999999999" stroke="#1a1a1a" stroke-width="0.9"/>
<text transform="translate(492.65 616.30) scale(0.92 1)" font-size="7.0" font-weight="bold" text-anchor="middle" fill="#1a1a1a" >2023</text>
<path d="M516.33 604.4V606.6999999999999" stroke="#1a1a1a" stroke-width="0.9"/>
<text transform="translate(518.33 616.30) scale(0.92 1)" font-size="7.0" font-weight="bold" text-anchor="middle" fill="#1a1a1a" >2024</text>
<path d="M542.00 604.4V606.6999999999999" stroke="#1a1a1a" stroke-width="0.9"/>
<text transform="translate(342.00 579.40) scale(0.885 1)" font-size="7.0" font-weight="bold" text-anchor="start" fill="#1a1a1a" >NBS policy rate</text>
<text transform="translate(400.60 583.70) scale(0.92 1)" font-size="7.0" font-weight="bold" text-anchor="start" fill="#1a1a1a" >Target: 3% ± 1.5</text>
<text transform="translate(446.40 529.50) scale(0.92 1)" font-size="7.0" font-weight="bold" text-anchor="start" fill="#1a1a1a" >Headline</text>
<text transform="translate(479.00 572.50) scale(0.92 1)" font-size="7.0" font-weight="bold" text-anchor="start" fill="#1a1a1a" >Core</text>
<text transform="translate(507.00 523.50) scale(0.92 1)" font-size="7.0" font-weight="bold" text-anchor="start" fill="#1a1a1a" >J.P. Morgan</text>
<text transform="translate(507.00 532.50) scale(0.92 1)" font-size="7.0" font-weight="bold" text-anchor="start" fill="#1a1a1a" >forecast</text>
<path d="M464.4 534.6L471.4 545.5" stroke="#24508f" stroke-width="1.3"/><path d="M473.2 548.3L467.9 543.4L470.9 541.4Z" fill="#1f4684"/>
<text transform="translate(319.70 625.60) scale(0.91 1)" font-size="6.1" font-weight="normal" text-anchor="start" fill="#333" >Source: NBS, J.P. Morgan</text>
</g>
</svg>

</div>
</body>
</html>
